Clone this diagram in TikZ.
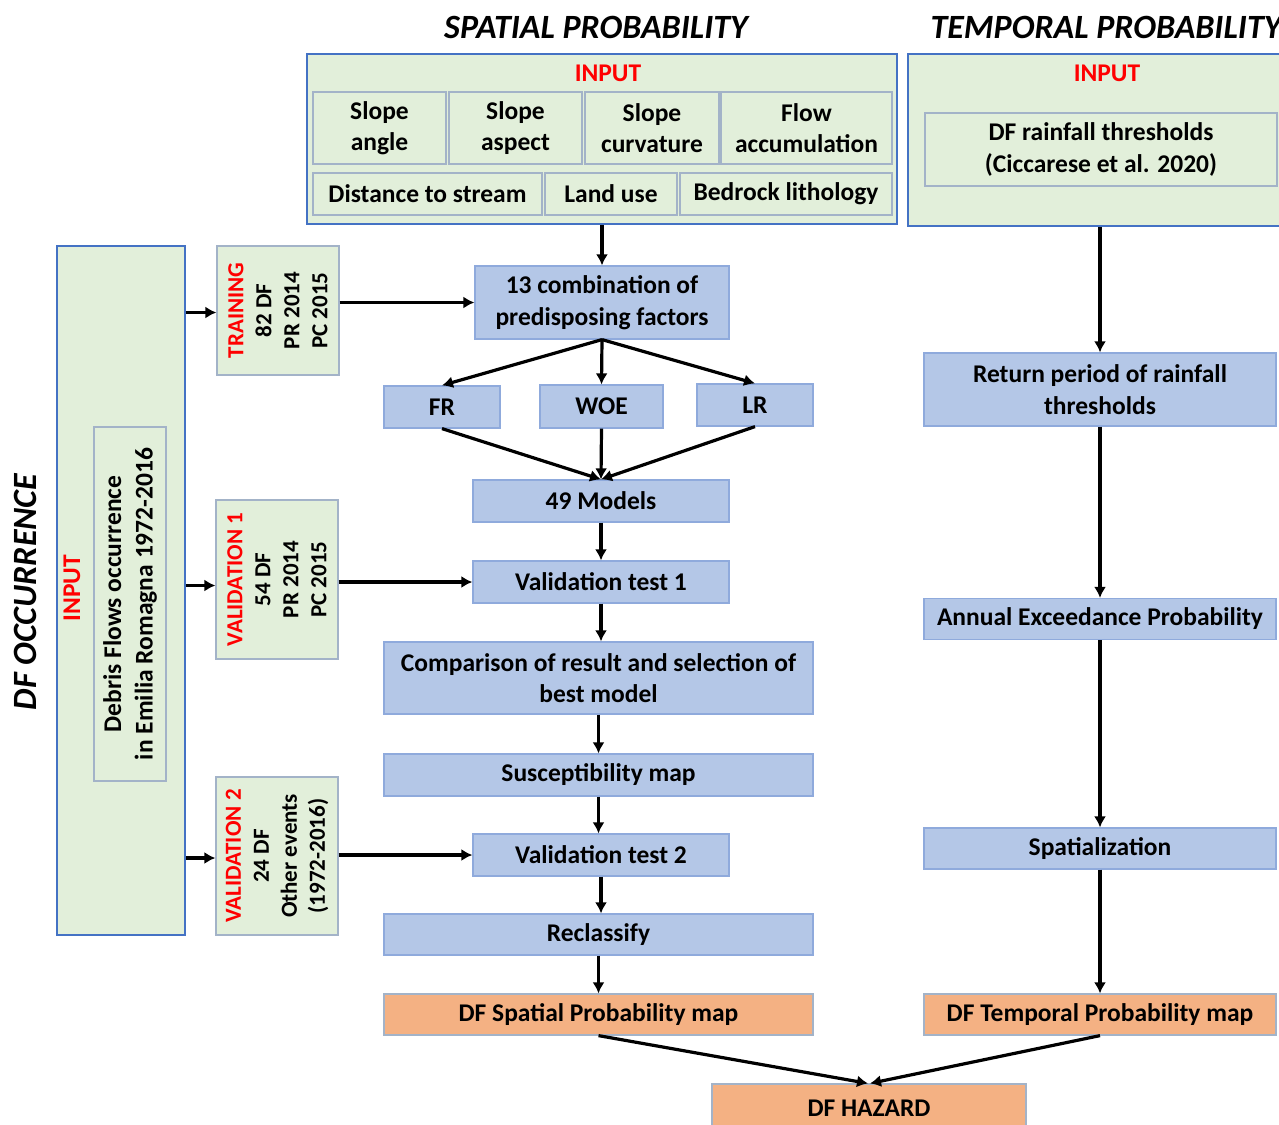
\documentclass[tikz,border=0pt]{standalone}
\usepackage{fontspec}
\setmainfont{Carlito}
\usetikzlibrary{arrows.meta}

\definecolor{inputgreen}{HTML}{E2EFDA}
\definecolor{frameblue}{HTML}{4472C4}
\definecolor{innerline}{HTML}{A3B3C8}
\definecolor{procfill}{HTML}{B4C7E7}
\definecolor{procline}{HTML}{8FAADC}
\definecolor{mapfill}{HTML}{F4B183}

\begin{document}
\begin{tikzpicture}[x=1pt,y=-1pt,>={Latex[length=11pt,width=12pt]},
  every node/.style={inner sep=0pt,align=center,font=\fontsize{25.5}{31.5}\selectfont\bfseries},
  outerbox/.style={draw=frameblue,line width=1.5pt,fill=inputgreen},
  innerbox/.style={draw=innerline,line width=1.2pt,fill=inputgreen},
  proc/.style={draw=procline,line width=1.2pt,fill=procfill},
  mapbox/.style={draw=innerline,line width=1.2pt,fill=mapfill},
  redlbl/.style={text=red},
  smalltxt/.style={font=\fontsize{23}{28}\selectfont\bfseries},
  headline/.style={font=\fontsize{34}{38}\selectfont\bfseries\itshape},
  flow/.style={->,line width=3.2pt,black}]

\useasboundingbox (0,0) rectangle (1279,1124);
\clip (0,0) rectangle (1279,1124);

\node [headline] (sptitle) at (596,27) {SPATIAL PROBABILITY};
\node [headline] (tmtitle) at (1106,27) {TEMPORAL PROBABILITY};
\node [headline,rotate=90] (octitle) at (25,592) {DF OCCURRENCE};

\node [outerbox,minimum width=590,minimum height=170] (spin) at (602,139) {};
\node [redlbl] at (608,73) {INPUT};
\node [innerbox,minimum width=133,minimum height=72] (sang) at (379.5,128) {Slope\\angle};
\node [innerbox,minimum width=133,minimum height=72] (sasp) at (515.5,128) {Slope\\aspect};
\node [innerbox,minimum width=134,minimum height=72] (scur) at (652,128) {Slope\\curvature};
\node [innerbox,minimum width=171,minimum height=72] (flow) at (806.5,128) {Flow\\accumulation};
\node [innerbox,minimum width=229,minimum height=42] (dist) at (427.5,194) {Distance to stream};
\node [innerbox,minimum width=132,minimum height=42] (land) at (611,194) {Land use};
\node [innerbox,minimum width=212,minimum height=42] (bedr) at (786,194) {Bedrock lithology};

\node [outerbox,minimum width=390,minimum height=172] (tmin) at (1103,140) {};
\node [redlbl] at (1107,73) {INPUT};
\node [innerbox,minimum width=352,minimum height=73] (rthr) at (1101,149.5) {DF rainfall thresholds\\(Ciccarese et al. 2020)};

\node [outerbox,rotate=90,minimum width=689,minimum height=128] (occ) at (121,590.5) {};
\node [redlbl,rotate=90] at (72,588) {INPUT};
\node [innerbox,rotate=90,minimum width=354,minimum height=72] (debr) at (130,604) {Debris Flows occurrence\\in Emilia Romagna 1972-2016};

\node [innerbox,smalltxt,rotate=90,minimum width=129,minimum height=122] (train) at (278,310.5) {{\color{red}TRAINING}\\82 DF\\PR 2014\\PC 2015};
\node [innerbox,smalltxt,rotate=90,minimum width=159,minimum height=122] (val1) at (277,579.5) {{\color{red}VALIDATION 1}\\54 DF\\PR 2014\\PC 2015};
\node [innerbox,smalltxt,rotate=90,minimum width=158,minimum height=122] (val2) at (277,856) {{\color{red}VALIDATION 2}\\24 DF\\Other events\\(1972-2016)};

\node [proc,minimum width=254,minimum height=73] (comb) at (602,302.5) {13 combination of\\predisposing factors};
\node [proc,minimum width=116,minimum height=42] (fr) at (442,407) {FR};
\node [proc,minimum width=123,minimum height=43] (woe) at (601.5,406.5) {WOE};
\node [proc,minimum width=116,minimum height=42] (lr) at (755,405) {LR};
\node [proc,minimum width=256,minimum height=42] (models) at (601,501) {49 Models};
\node [proc,minimum width=256,minimum height=42] (vt1) at (601,582) {Validation test 1};
\node [proc,minimum width=429,minimum height=72] (comp) at (598.5,678) {Comparison of result and selection of\\best model};
\node [proc,minimum width=429,minimum height=42] (susc) at (598.5,775) {Susceptibility map};
\node [proc,minimum width=256,minimum height=42] (vt2) at (601,855) {Validation test 2};
\node [proc,minimum width=429,minimum height=41] (recl) at (598.5,934.5) {Reclassify};
\node [mapbox,minimum width=429,minimum height=41] (spmap) at (598.5,1014.5) {DF Spatial Probability map};

\node [proc,minimum width=352,minimum height=73] (retp) at (1100,389.5) {Return period of rainfall\\thresholds};
\node [proc,minimum width=352,minimum height=41] (aep) at (1100,619) {Annual Exceedance Probability};
\node [proc,minimum width=352,minimum height=41] (spz) at (1100,848.5) {Spatialization};
\node [mapbox,minimum width=352,minimum height=41] (tpmap) at (1100,1014.5) {DF Temporal Probability map};

\node [mapbox,minimum width=314,minimum height=48] (haz) at (869,1108) {DF HAZARD};

\path [flow]
    (spin.south) edge (comb.north)
    (comb.south) edge (fr.north)
    (comb.south) edge (woe.north)
    (comb.south) edge (lr.north)
    (fr.south) edge (models.north)
    (woe.south) edge (models.north)
    (lr.south) edge (models.north)
    (models.south) edge (models.south |- vt1.north)
    (vt1.south) edge (vt1.south |- comp.north)
    (comp.south) edge (comp.south |- susc.north)
    (susc.south) edge (susc.south |- vt2.north)
    (vt2.south) edge (vt2.south |- recl.north)
    (recl.south) edge (recl.south |- spmap.north)
    (spmap.south) edge ([xshift=-1pt]haz.north)
    (tmin.south -| retp.north) edge (retp.north)
    (retp.south) edge (aep.north)
    (aep.south) edge (spz.north)
    (spz.south) edge (tpmap.north)
    (tpmap.south) edge ([xshift=1pt]haz.north)
    ([yshift=-2pt]occ.south |- train.center) edge ([yshift=-2pt]train.north)
    ([yshift=-6pt]occ.south |- val1.center) edge ([yshift=-6pt]val1.north)
    ([yshift=-2pt]occ.south |- val2.center) edge ([yshift=-2pt]val2.north)
    (train.south |- comb.west) edge (comb.west)
    (val1.south |- vt1.west) edge (vt1.west)
    (val2.south |- vt2.west) edge (vt2.west)
;

\end{tikzpicture}
\end{document}
